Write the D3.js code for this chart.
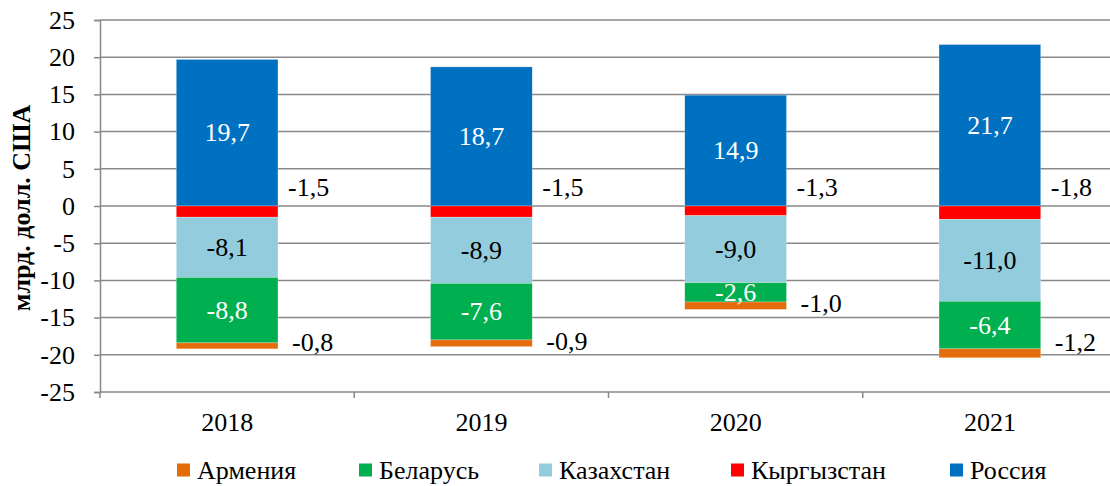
<!DOCTYPE html>
<html>
<head>
<meta charset="utf-8">
<script src="https://cdn.jsdelivr.net/npm/d3@7"></script>
<style>
  body { margin: 0; background: #fff; }
  svg { display: block; }
  svg text { font-family: "Liberation Serif", "Times New Roman", serif !important; }
</style>
</head>
<body>
<div id="chart"></div>
<script>
// Data
const years = ["2018", "2019", "2020", "2021"];
const russia = [19.7, 18.7, 14.9, 21.7];
const kyrgyzstan = [-1.5, -1.5, -1.3, -1.8];
const kazakhstan = [-8.1, -8.9, -9.0, -11.0];
const belarus = [-8.8, -7.6, -2.6, -6.4];
const armenia = [-0.8, -0.9, -1.0, -1.2];
const yTicks = [25, 20, 15, 10, 5, 0, -5, -10, -15, -20, -25];

const series = [
  { name: "Россия", values: russia, color: "#0070C0", label: "inside", labelColor: "#fff" },
  { name: "Кыргызстан", values: kyrgyzstan, color: "#FF0000", label: "right-top", labelColor: "#000" },
  { name: "Казахстан", values: kazakhstan, color: "#93CDDD", label: "inside", labelColor: "#000" },
  { name: "Беларусь", values: belarus, color: "#00B050", label: "inside", labelColor: "#fff" },
  { name: "Армения", values: armenia, color: "#E46C0A", label: "right", labelColor: "#000" }
];
const legendOrder = ["Армения", "Беларусь", "Казахстан", "Кыргызстан", "Россия"];

const W = 1110, H = 486;
const FS = 26;
const svg = d3.select("#chart").append("svg").attr("width", W).attr("height", H);

const x = d3.scaleBand().domain(years).range([100, 1117]).paddingInner(0.6).paddingOuter(0.3);
const y = d3.scaleLinear().domain([-25, 25]).range([392, 20]);

const fmt = v => v.toFixed(1).replace(".", ",");

// Gridlines
svg.append("g")
  .selectAll("line")
  .data(yTicks)
  .join("line")
  .attr("x1", 100).attr("x2", W)
  .attr("y1", d => y(d)).attr("y2", d => y(d))
  .attr("stroke", "#898989").attr("stroke-width", 1.5);

// Y axis
const yAxis = svg.append("g")
  .attr("transform", "translate(100,0)")
  .call(d3.axisLeft(y).tickValues(yTicks).tickSize(6).tickPadding(19).tickFormat(d => d));
yAxis.select(".domain").attr("stroke", "#898989").attr("stroke-width", 1.5);
yAxis.selectAll(".tick line").attr("stroke", "#898989").attr("stroke-width", 1.5);
yAxis.selectAll("text").attr("font-size", FS).attr("fill", "#000");

// X axis category ticks (between categories)
const step = x.step();
const catEdges = d3.range(years.length + 1).map(i => x(years[0]) - (step - x.bandwidth()) / 2 + i * step);
svg.append("g")
  .selectAll("line")
  .data(catEdges)
  .join("line")
  .attr("x1", d => d).attr("x2", d => d)
  .attr("y1", y(-25)).attr("y2", y(-25) + 6)
  .attr("stroke", "#898989").attr("stroke-width", 1.5);

svg.append("g")
  .selectAll("text")
  .data(years)
  .join("text")
  .attr("x", d => x(d) + x.bandwidth() / 2)
  .attr("y", 431)
  .attr("text-anchor", "middle")
  .attr("font-size", FS)
  .text(d => d);

// Axis title
svg.append("text")
  .attr("transform", `translate(21,${y(0) + 2}) rotate(-90)`)
  .attr("text-anchor", "middle")
  .attr("dominant-baseline", "central")
  .attr("font-size", FS)
  .attr("font-weight", "bold")
  .text("млрд. долл. США");

// Stacked bars
const posBase = years.map(() => 0);
const negBase = years.map(() => 0);
const segs = [];
series.forEach(s => {
  s.values.forEach((v, i) => {
    let y0, y1;
    if (v >= 0) { y0 = posBase[i]; y1 = y0 + v; posBase[i] = y1; }
    else { y0 = negBase[i]; y1 = y0 + v; negBase[i] = y1; }
    segs.push({ s, year: years[i], v, y0, y1 });
  });
});

svg.append("g")
  .selectAll("rect")
  .data(segs)
  .join("rect")
  .attr("x", d => x(d.year))
  .attr("width", x.bandwidth())
  .attr("y", d => y(Math.max(d.y0, d.y1)))
  .attr("height", d => Math.abs(y(d.y0) - y(d.y1)))
  .attr("fill", d => d.s.color)
  .attr("stroke", "#fff")
  .attr("stroke-opacity", 0.5)
  .attr("stroke-width", 0.5);

// Labels
svg.append("g")
  .selectAll("text")
  .data(segs)
  .join("text")
  .attr("font-size", FS)
  .attr("fill", d => d.s.labelColor)
  .attr("dominant-baseline", "central")
  .attr("text-anchor", d => d.s.label === "inside" ? "middle" : "start")
  .attr("x", d => {
    if (d.s.label === "inside") return x(d.year) + x.bandwidth() / 2;
    if (d.s.label === "right-top") return x(d.year) + x.bandwidth() + 10;
    return x(d.year) + x.bandwidth() + 14;
  })
  .attr("y", d => {
    const mid = y((d.y0 + d.y1) / 2);
    if (d.s.label === "inside") return mid;
    if (d.s.label === "right-top") return y(0) - 19;
    return Math.min(mid - 2, 342);
  })
  .text(d => fmt(d.v));

// Legend
const legendX = [177, 359, 539, 731, 950];
const legend = svg.append("g")
  .selectAll("g")
  .data(legendOrder)
  .join("g")
  .attr("transform", (d, i) => `translate(${legendX[i]},470)`);
legend.append("rect")
  .attr("x", 0).attr("y", -6.5)
  .attr("width", 13).attr("height", 13)
  .attr("fill", d => series.find(s => s.name === d).color);
legend.append("text")
  .attr("x", 20)
  .attr("y", 0)
  .attr("dominant-baseline", "central")
  .attr("font-size", FS)
  .text(d => d);
</script>
</body>
</html>
